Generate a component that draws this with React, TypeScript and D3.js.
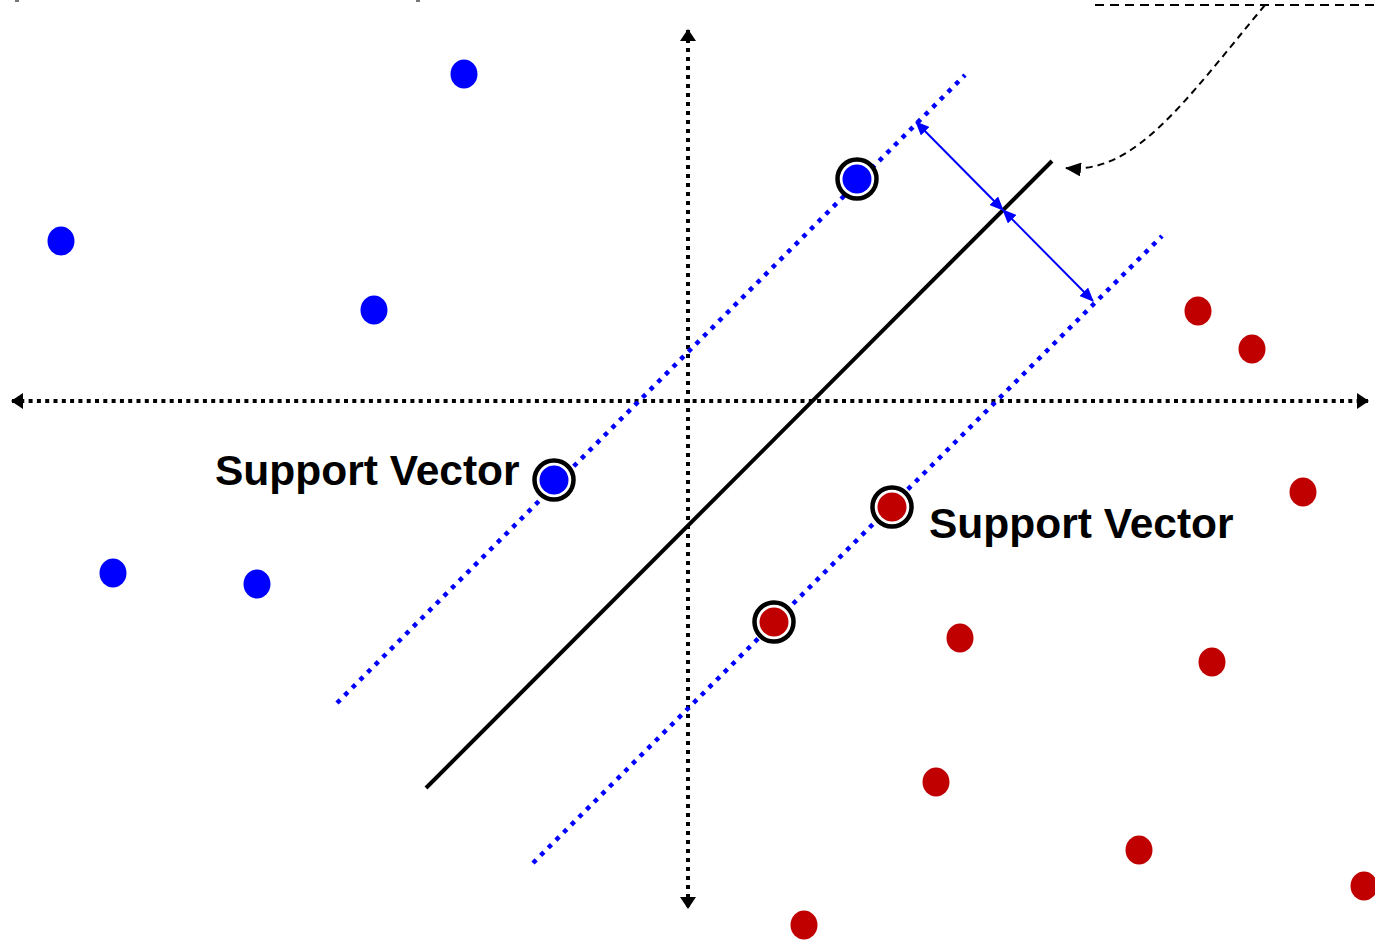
import React from "react";
import * as d3 from "d3";

// Data coordinates: origin at the axes crossing, y up.
const bluePoints: [number, number][] = [
  [-224, 327], [-627, 160], [-314, 91], [-575, -172], [-431, -183],
];
const blueSupport: [number, number][] = [[169, 222], [-134, -79]];
const redPoints: [number, number][] = [
  [510, 90], [564, 52], [615, -91], [272, -237], [524, -261],
  [248, -381], [451, -449], [676, -485], [116, -524],
];
const redSupport: [number, number][] = [[204, -106], [86, -221]];

const hyperplane: [number, number][] = [[-262, -387], [364, 240]];
const upperMargin: [number, number][] = [[-351, -302], [277, 326]];
const lowerMargin: [number, number][] = [[-155, -462], [474, 165]];
const marginArrowA: [number, number][] = [[228, 279], [315, 191]];
const marginArrowB: [number, number][] = [[315, 191], [405, 100]];
const xAxisLine: [number, number][] = [[-676, 0], [680, 0]];
const yAxisLine: [number, number][] = [[0, 371], [0, -507]];
const topDashed: [number, number][] = [[407, 396], [687, 396]];
const calloutCurve: [number, number][] = [[577, 396], [497, 300], [447, 226], [378, 233]];
const labels: { text: string; pos: [number, number] }[] = [
  { text: "Support Vector", pos: [-473, -84] },
  { text: "Support Vector", pos: [241, -137] },
];
const topMarks: [number, number][] = [[-673, 401], [-272, 401]];

const W = 1375;
const H = 940;
const x = d3.scaleLinear().domain([-688, 687]).range([0, W]);
const y = d3.scaleLinear().domain([-539, 401]).range([H, 0]);

const BLUE = "#0000ff";
const RED = "#c00000";

const seg = (p: [number, number][]) => ({ x1: x(p[0][0]), y1: y(p[0][1]), x2: x(p[1][0]), y2: y(p[1][1]) });

export default function App() {
  const curvePath = (() => {
    const p = calloutCurve;
    const path = d3.path();
    path.moveTo(x(p[0][0]), y(p[0][1]));
    path.bezierCurveTo(x(p[1][0]), y(p[1][1]), x(p[2][0]), y(p[2][1]), x(p[3][0]), y(p[3][1]));
    return path.toString();
  })();

  return (
    <svg width={W} height={H} style={{ position: "fixed", left: 0, top: 0, background: "#fff" }}
      fontFamily="'Liberation Sans', Arial, sans-serif">
      <defs>
        <marker id="axArrow" markerUnits="userSpaceOnUse" viewBox="0 0 12 16" refX="11" refY="8"
          markerWidth="12" markerHeight="16" orient="auto-start-reverse">
          <path d="M0,0 L12,8 L0,16 Z" fill="#000" />
        </marker>
        <marker id="blueArrow" markerUnits="userSpaceOnUse" viewBox="0 0 14 12" refX="13" refY="6"
          markerWidth="14" markerHeight="12" orient="auto-start-reverse">
          <path d="M0,0 L14,6 L0,12 Z" fill={BLUE} />
        </marker>
        <marker id="curveArrow" markerUnits="userSpaceOnUse" viewBox="0 0 16 14" refX="15" refY="7"
          markerWidth="16" markerHeight="14" orient="auto">
          <path d="M0,0 L16,7 L0,14 Z" fill="#000" />
        </marker>
      </defs>

      {topMarks.map((p, i) => (
        <rect key={"tm" + i} x={x(p[0])} y={y(p[1])} width={4} height={2} fill="#777" />
      ))}

      {/* axes */}
      <line {...seg(xAxisLine)} stroke="#000" strokeWidth={4} strokeDasharray="4 4.3"
        markerStart="url(#axArrow)" markerEnd="url(#axArrow)" />
      <line {...seg(yAxisLine)} stroke="#000" strokeWidth={4} strokeDasharray="4 5"
        markerStart="url(#axArrow)" markerEnd="url(#axArrow)" />

      {/* margins */}
      <line {...seg(upperMargin)} stroke={BLUE} strokeWidth={4.5} strokeDasharray="4.5 6.3" />
      <line {...seg(lowerMargin)} stroke={BLUE} strokeWidth={4.5} strokeDasharray="4.5 6.3" />
      <line {...seg(hyperplane)} stroke="#000" strokeWidth={4} />

      <line {...seg(marginArrowA)} stroke={BLUE} strokeWidth={2}
        markerStart="url(#blueArrow)" markerEnd="url(#blueArrow)" />
      <line {...seg(marginArrowB)} stroke={BLUE} strokeWidth={2}
        markerStart="url(#blueArrow)" markerEnd="url(#blueArrow)" />

      {/* callout */}
      <line {...seg(topDashed)} stroke="#000" strokeWidth={2} strokeDasharray="9 6" />
      <path d={curvePath} fill="none" stroke="#000" strokeWidth={2} strokeDasharray="7 5"
        markerEnd="url(#curveArrow)" />

      {/* points */}
      {bluePoints.map((p, i) => (
        <ellipse key={"b" + i} cx={x(p[0])} cy={y(p[1])} rx={13.5} ry={14.5} fill={BLUE} />
      ))}
      {redPoints.map((p, i) => (
        <ellipse key={"r" + i} cx={x(p[0])} cy={y(p[1])} rx={13.5} ry={14.5} fill={RED} />
      ))}
      {blueSupport.map((p, i) => (
        <g key={"bs" + i}>
          <circle cx={x(p[0])} cy={y(p[1])} r={19.5} fill="#fff" stroke="#000" strokeWidth={4.5} />
          <circle cx={x(p[0])} cy={y(p[1])} r={14.5} fill={BLUE} />
        </g>
      ))}
      {redSupport.map((p, i) => (
        <g key={"rs" + i}>
          <circle cx={x(p[0])} cy={y(p[1])} r={19.5} fill="#fff" stroke="#000" strokeWidth={4.5} />
          <circle cx={x(p[0])} cy={y(p[1])} r={14.5} fill={RED} />
        </g>
      ))}

      {labels.map((l, i) => (
        <text key={"l" + i} x={x(l.pos[0])} y={y(l.pos[1])} fontSize={42.5} fontWeight="bold" fill="#000">
          {l.text}
        </text>
      ))}
    </svg>
  );
}
